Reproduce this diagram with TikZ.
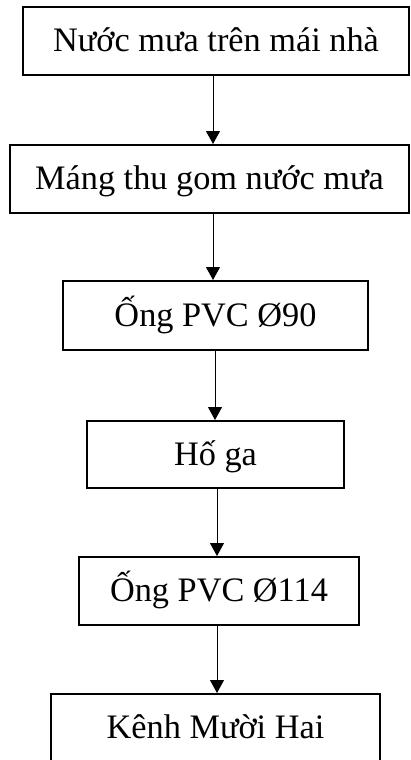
\documentclass[tikz,border=0pt]{standalone}
\usepackage{fontspec}
\setmainfont{Liberation Serif}
\usetikzlibrary{arrows.meta}
\tikzset{
  box/.style={draw, line width=2pt, inner sep=0pt, font=\fontsize{34.3}{41}\selectfont, text height=21pt, text depth=0pt},
  flow/.style={line width=1pt, -{Triangle[length=13pt,width=14pt]}}
}
\begin{document}
\begin{tikzpicture}[x=1pt,y=-1pt]
\useasboundingbox (0,0) rectangle (410,760);
\clip (0,0) rectangle (410,760);
\node[box, minimum width=386pt, minimum height=68pt] (b1) at (216,41) {Nước mưa trên mái nhà};
\node[box, minimum width=399pt, minimum height=68pt] (b2) at (209.5,179) {Máng thu gom nước mưa};
\node[box, minimum width=305pt, minimum height=69pt] (b3) at (215.5,315.5) {Ống PVC Ø90};
\node[box, minimum width=257pt, minimum height=67pt] (b4) at (215.5,454.5) {Hố ga};
\node[box, minimum width=280pt, minimum height=68pt] (b5) at (219,591) {Ống PVC Ø114};
\node[box, minimum width=329pt, minimum height=68pt] (b6) at (215.5,728) {Kênh Mười Hai};
\draw[flow] (b1.south -| 213,0) -- (b2.north -| 213,0);
\draw[flow] (b2.south -| 213,0) -- (b3.north -| 213,0);
\draw[flow] (b3.south -| 215,0) -- (b4.north -| 215,0);
\draw[flow] (b4.south -| 217,0) -- (b5.north -| 217,0);
\draw[flow] (b5.south -| 217,0) -- (b6.north -| 217,0);
\end{tikzpicture}
\end{document}
